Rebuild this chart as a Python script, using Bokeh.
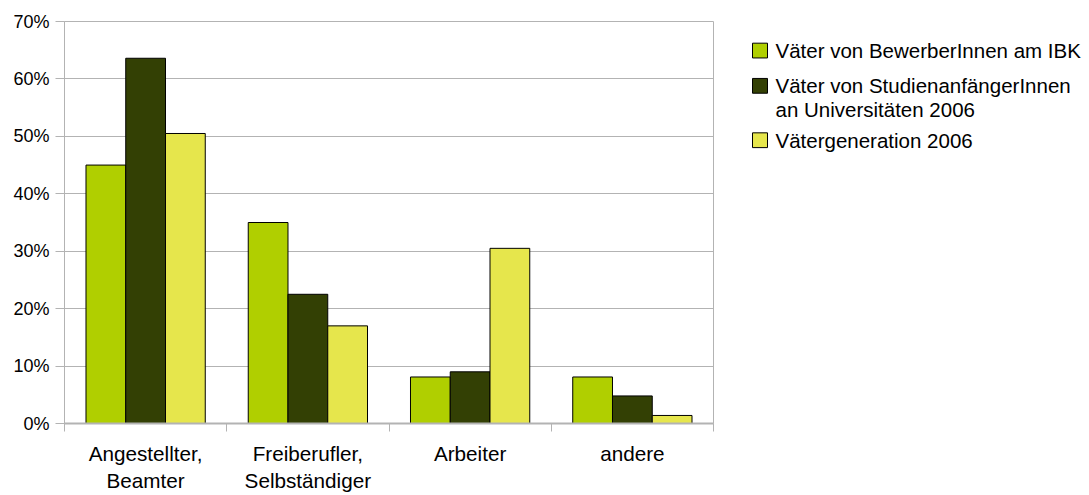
from bokeh.plotting import figure
from bokeh.layouts import row
from bokeh.models import Range1d, FixedTicker, NumeralTickFormatter
from bokeh.core.properties import value
from bokeh.embed import file_html
from bokeh.resources import INLINE

# ---- data ----
categories = ["Angestellter,\nBeamter", "Freiberufler,\nSelbständiger", "Arbeiter", "andere"]
legend_lines = ["Väter von BewerberInnen am IBK",
                "Väter von StudienanfängerInnen",
                "an Universitäten 2006",
                "Vätergeneration 2006"]
ibk = [45.0, 35.0, 8.1, 8.1]        # Väter von BewerberInnen am IBK
uni = [63.6, 22.5, 9.0, 4.8]        # Väter von StudienanfängerInnen an Universitäten 2006
gen = [50.5, 17.0, 30.5, 1.4]       # Vätergeneration 2006
y_ticks = [0, 10, 20, 30, 40, 50, 60, 70]

colors = ["#b0cf00", "#334004", "#e6e64c"]
FONT = "Liberation Sans"
GRID = "#b3b3b3"

n = len(categories)
centers = [i + 0.5 for i in range(n)]
bounds = [float(i) for i in range(n + 1)]
bw = 0.245

W, H = 1089, 495
PW = 714
TOP, BOTTOM = 21, 66

p = figure(width=PW, height=H, output_backend="svg", toolbar_location=None,
           x_range=Range1d(0, n), y_range=Range1d(0, max(y_ticks) / 100),
           min_border_left=64, min_border_right=1, min_border_top=TOP, min_border_bottom=BOTTOM)
p.background_fill_color = "white"
p.border_fill_color = "white"
p.outline_line_color = GRID

for k, (vals, col) in enumerate(zip([ibk, uni, gen], colors)):
    xs = [c + (k - 1) * bw for c in centers]
    p.vbar(x=xs, top=[v / 100 for v in vals], width=bw, bottom=0,
           fill_color=col, line_color="black", line_width=1)

# grid
p.xgrid.visible = False
p.ygrid.grid_line_color = GRID
p.ygrid.grid_line_width = 1

# y axis
p.yaxis.ticker = FixedTicker(ticks=[t / 100 for t in y_ticks])
p.yaxis.formatter = NumeralTickFormatter(format="0%")
p.yaxis.axis_line_color = GRID
p.yaxis.axis_line_width = 1
p.yaxis.major_tick_line_color = GRID
p.yaxis.major_tick_out = 9
p.yaxis.major_tick_in = 0
p.yaxis.minor_tick_line_color = None
p.yaxis.major_label_standoff = 6
p.yaxis.major_label_text_font = FONT
p.yaxis.major_label_text_font_size = "18px"
p.yaxis.major_label_text_color = "black"

# x axis
p.xaxis.ticker = FixedTicker(ticks=centers, minor_ticks=bounds)
p.xaxis.major_label_overrides = {c: lab for c, lab in zip(centers, categories)}
p.xaxis.axis_line_color = GRID
p.xaxis.axis_line_width = 2
p.xaxis.major_tick_out = 0
p.xaxis.major_tick_in = 0
p.xaxis.major_tick_line_color = None
p.xaxis.minor_tick_line_color = GRID
p.xaxis.minor_tick_out = 8
p.xaxis.minor_tick_in = 0
p.xaxis.major_label_standoff = 10
p.xaxis.major_label_text_font = FONT
p.xaxis.major_label_text_font_size = "20.7px"
p.xaxis.major_label_text_color = "black"
p.xaxis.major_label_text_line_height = 1.2

# ---- legend panel (pixel-mapped coordinates, y downwards) ----
LW = W - PW
lg = figure(width=LW, height=H, output_backend="svg", toolbar_location=None,
            x_axis_type=None, y_axis_type=None,
            x_range=Range1d(0, LW), y_range=Range1d(H - BOTTOM, TOP),
            min_border=0, min_border_left=0, min_border_right=0,
            min_border_top=TOP, min_border_bottom=BOTTOM)
lg.outline_line_color = None
lg.grid.visible = False
lg.background_fill_color = "white"
lg.border_fill_color = "white"

swatch = [colors[0], colors[1], None, colors[2]]
row_centers = [50.5, 86.3, 110.5, 141.5]   # layout (px from top of page)
SW_X, SW = 38, 15
sw_x = [SW_X + SW / 2 for c in swatch if c is not None]
sw_y = [cy for c, cy in zip(swatch, row_centers) if c is not None]
sw_c = [c for c in swatch if c is not None]
lg.rect(x=sw_x, y=sw_y, width=SW, height=SW, fill_color=sw_c,
        line_color="black", line_width=1)
lg.text(x=[SW_X + SW + 8] * len(legend_lines), y=row_centers, text=legend_lines,
        text_baseline="middle", text_align="left", text_font=value(FONT),
        text_font_size="20.5px", text_color="black")

layout = row(p, lg, spacing=0)
open("out.html", "w").write(file_html(layout, INLINE))
